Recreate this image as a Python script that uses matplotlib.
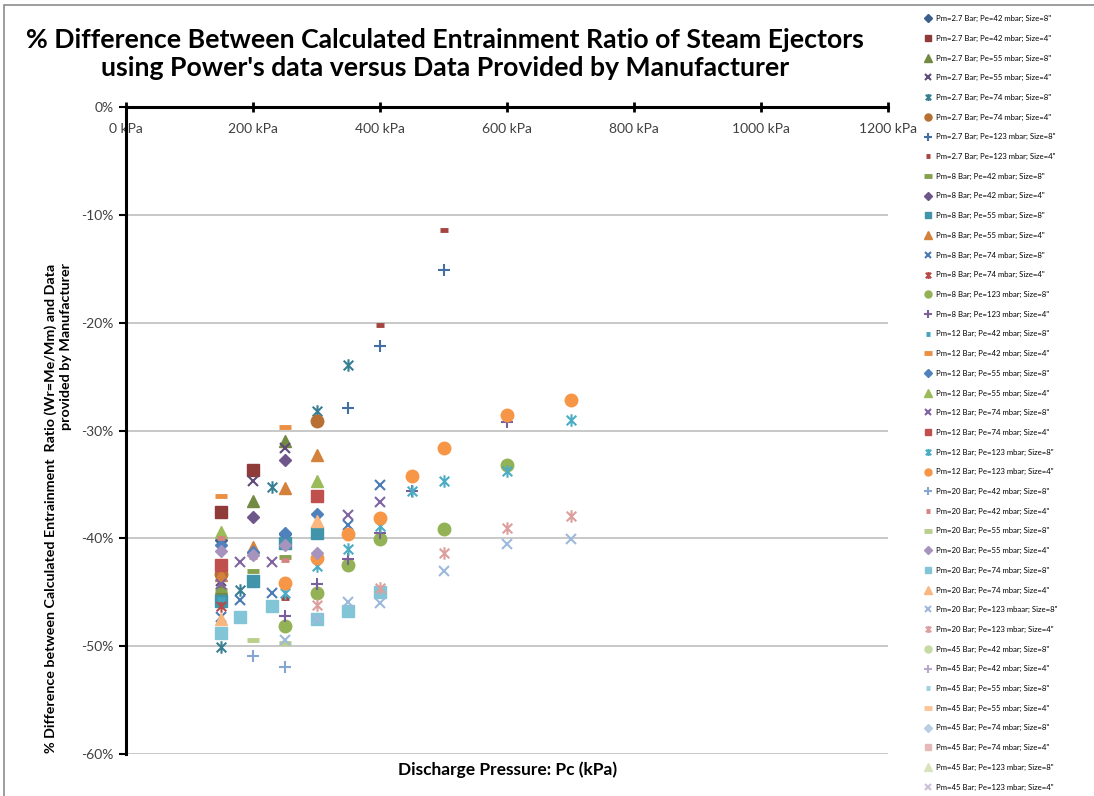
import matplotlib.pyplot as plt
import matplotlib.ticker as mtick
from matplotlib.colors import to_rgb
from matplotlib.lines import Line2D
from matplotlib.patches import Rectangle
from matplotlib.path import Path

plt.rcParams['font.family'] = ['Lato', 'DejaVu Sans']
plt.rcParams['axes.unicode_minus'] = False

# series names, one per ejector configuration
labels = [
    'Pm=2.7 Bar; Pe=42 mbar; Size=8"', 'Pm=2.7 Bar; Pe=42 mbar; Size=4"',
    'Pm=2.7 Bar; Pe=55 mbar; Size=8"', 'Pm=2.7 Bar; Pe=55 mbar; Size=4"',
    'Pm=2.7 Bar; Pe=74 mbar; Size=8"', 'Pm=2.7 Bar; Pe=74 mbar; Size=4"',
    'Pm=2.7 Bar; Pe=123 mbar; Size=8"', 'Pm=2.7 Bar; Pe=123 mbar; Size=4"',
    'Pm=8 Bar; Pe=42 mbar; Size=8"', 'Pm=8 Bar; Pe=42 mbar; Size=4"',
    'Pm=8 Bar; Pe=55 mbar; Size=8"', 'Pm=8 Bar; Pe=55 mbar; Size=4"',
    'Pm=8 Bar; Pe=74 mbar; Size=8"', 'Pm=8 Bar; Pe=74 mbar; Size=4"',
    'Pm=8 Bar; Pe=123 mbar; Size=8"', 'Pm=8 Bar; Pe=123 mbar; Size=4"',
    'Pm=12 Bar; Pe=42 mbar; Size=8"', 'Pm=12 Bar; Pe=42 mbar; Size=4"',
    'Pm=12 Bar; Pe=55 mbar; Size=8"', 'Pm=12 Bar; Pe=55 mbar; Size=4"',
    'Pm=12 Bar; Pe=74 mbar; Size=8"', 'Pm=12 Bar; Pe=74 mbar; Size=4"',
    'Pm=12 Bar; Pe=123 mbar; Size=8"', 'Pm=12 Bar; Pe=123 mbar; Size=4"',
    'Pm=20 Bar; Pe=42 mbar; Size=8"', 'Pm=20 Bar; Pe=42 mbar; Size=4"',
    'Pm=20 Bar; Pe=55 mbar; Size=8"', 'Pm=20 Bar; Pe=55 mbar; Size=4"',
    'Pm=20 Bar; Pe=74 mbar; Size=8"', 'Pm=20 Bar; Pe=74 mbar; Size=4"',
    'Pm=20 Bar; Pe=123 mbaar; Size=8"', 'Pm=20 Bar; Pe=123 mbar; Size=4"',
    'Pm=45 Bar; Pe=42 mbar; Size=8"', 'Pm=45 Bar; Pe=42 mbar; Size=4"',
    'Pm=45 Bar; Pe=55 mbar; Size=8"', 'Pm=45 Bar; Pe=55 mbar; Size=4"',
    'Pm=45 Bar; Pe=74 mbar; Size=8"', 'Pm=45 Bar; Pe=74 mbar; Size=4"',
    'Pm=45 Bar; Pe=123 mbar; Size=8"', 'Pm=45 Bar; Pe=123 mbar; Size=4"',
]

# discharge pressure Pc (kPa) for each series
pressure = [
    [150, 250], [150, 200], [150, 200, 250], [150, 200, 250],
    [150, 180, 230, 300, 350], [150, 300], [350, 400, 500], [250, 400, 500],
    [150, 200, 250], [200, 250], [150, 200, 250, 300], [150, 200, 250, 300],
    [150, 180, 230, 350, 400], [150], [250, 300, 350, 400, 500, 600],
    [250, 300, 350, 400, 450, 600],
    [150], [150, 250], [150, 200, 250, 300], [150, 300],
    [150, 180, 230, 350, 400], [150, 300],
    [250, 300, 350, 400, 450, 500, 600, 700],
    [250, 300, 350, 400, 450, 500, 600, 700],
    [200, 250], [150, 200, 250], [200, 250], [150, 200, 250, 300],
    [150, 180, 230, 300, 350, 400], [150, 300],
    [250, 300, 350, 400, 500, 600, 700], [300, 400, 500, 600, 700],
    [], [], [], [], [], [], [], [],
]

# % difference in entrainment ratio for each series
difference = [
    [-40.2, -39.6], [-37.6, -33.7], [-44.6, -36.5, -31.0], [-44.0, -34.7, -31.6],
    [-50.1, -44.8, -35.2, -28.2, -23.9], [-43.3, -29.1], [-27.9, -22.2, -15.1],
    [-45.5, -20.2, -11.4],
    [-44.8, -43.0, -41.7], [-38.0, -32.7], [-45.8, -44.0, -40.4, -39.5],
    [-43.4, -40.8, -35.3, -32.3],
    [-47.3, -45.7, -45.1, -38.8, -35.1], [-46.3],
    [-48.1, -45.1, -42.5, -40.1, -39.1, -33.2],
    [-47.2, -44.2, -41.9, -39.5, -35.6, -29.2],
    [-45.6], [-36.1, -29.7], [-40.6, -41.3, -39.5, -37.7], [-39.4, -34.7],
    [-44.2, -42.2, -42.2, -37.8, -36.6], [-42.5, -36.1],
    [-45.1, -42.6, -41.0, -38.9, -35.6, -34.7, -33.8, -29.0],
    [-44.1, -41.8, -39.6, -38.1, -34.2, -31.6, -28.6, -27.2],
    [-50.9, -51.9], [-40.0, -41.7, -42.0], [-49.4, -49.7],
    [-41.2, -41.5, -40.6, -41.4],
    [-48.8, -47.3, -46.3, -47.5, -46.7, -45.0], [-47.5, -38.4],
    [-49.4, -47.5, -45.9, -46.0, -43.0, -40.5, -40.1],
    [-46.2, -44.6, -41.4, -39.0, -37.9],
    [], [], [], [], [], [], [], [],
]

xticks = [0, 200, 400, 600, 800, 1000, 1200]
yticks = [0, -10, -20, -30, -40, -50, -60]

# office palette, darker shades first then lighter tints
accents = ['#4F81BD', '#C0504D', '#9BBB59', '#8064A2', '#4BACC6', '#F79646']
shades = [0.74, 0.86, 0.95, 1.0, -0.3, -0.45, -0.6]
hue = [i % 6 for i in range(40)]
hue[19], hue[20], hue[21] = 2, 3, 1   # restyled 12 bar series


def shade(c, f):
    r, g, b = to_rgb(c)
    if f > 0:
        return (r * f, g * f, b * f)
    t = -f
    return (r + (1 - r) * t, g + (1 - g) * t, b + (1 - b) * t)


colors = [shade(accents[hue[i]], shades[i // 6]) for i in range(40)]

# excel style star: an x with a vertical bar
star = Path([(-1, -1), (1, 1), (-1, 1), (1, -1), (0, -1.3), (0, 1.3)],
            [Path.MOVETO, Path.LINETO, Path.MOVETO, Path.LINETO,
             Path.MOVETO, Path.LINETO])

styles = {
    'D': dict(marker='D', ms=6.5),
    's': dict(marker='s', ms=8.5),
    '^': dict(marker='^', ms=9),
    'x': dict(marker='x', ms=7.5, mew=1.5),
    '*': dict(marker=star, ms=9, mew=1.5),
    'o': dict(marker='o', ms=9),
    '+': dict(marker='+', ms=9, mew=1.5),
    '-': dict(marker='_', ms=6, mew=3.5),
    '=': dict(marker='_', ms=9, mew=3.5),
}
markers = ['D', 's', '^', 'x', '*', 'o', '+', '-',
           '=', 'D', 's', '^', 'x', '*', 'o', '+',
           '-', '=', 'D', '^', 'x', 's', '*', 'o',
           '+', '-', '=', 'D', 's', '^', 'x', '*',
           'o', '+', '-', '=', 'D', 's', '^', 'x']

fig = plt.figure(figsize=(10.94, 7.96), dpi=100)
ax = fig.add_axes([126 / 1094, 1 - 754 / 796, 762 / 1094, 647 / 796])

handles = []
for i in range(40):
    st = styles[markers[i]]
    ax.plot(pressure[i], difference[i], ls='none', color=colors[i],
            mec=colors[i], mfc=colors[i], **st)
    handles.append(Line2D([], [], ls='none', color=colors[i], mec=colors[i],
                          mfc=colors[i], **st))

ax.set_xlim(0, 1200)
ax.set_ylim(-60, 0)
ax.set_xticks(xticks)
ax.set_xticklabels(['%d kPa' % v for v in xticks])
ax.set_yticks(yticks)
ax.yaxis.set_major_formatter(mtick.FormatStrFormatter('%d%%'))

ax.grid(True, axis='y', color='#c8c8c8', lw=1.4)
ax.set_axisbelow(True)
for s in ['right', 'bottom']:
    ax.spines[s].set_visible(False)
for s in ['left', 'top']:
    ax.spines[s].set_linewidth(2.2)
    ax.spines[s].set_color('black')

ax.xaxis.tick_top()
ax.tick_params(axis='x', direction='inout', length=7, width=2, pad=-24,
               labelsize=10, labelcolor='#404040')
ax.tick_params(axis='y', direction='out', length=5, width=1.5, pad=4,
               labelsize=10, labelcolor='#404040')

fig.text(445 / 1094, 1 - 54 / 796,
         "% Difference Between Calculated Entrainment Ratio of Steam Ejectors\n"
         "using Power's data versus Data Provided by Manufacturer",
         ha='center', va='center', fontsize=19.2, fontweight='bold',
         linespacing=1.15)
fig.text(508 / 1094, 1 - 770 / 796, 'Discharge Pressure: Pc (kPa)',
         ha='center', va='center', fontsize=12.5, fontweight='bold')
fig.text(58 / 1094, 1 - 508 / 796,
         '% Difference between Calculated Entrainment  Ratio (Wr=Me/Mm) and Data\n'
         'provided by Manufacturer',
         ha='center', va='center', rotation=90, fontsize=10.3,
         fontweight='bold', multialignment='right', linespacing=1.25)

fig.legend(handles, labels, loc='upper left',
           bbox_to_anchor=(922 / 1094, 1 - 12 / 796), frameon=False,
           fontsize=5.6, labelspacing=1.625, handlelength=0.8,
           handletextpad=0.6, borderaxespad=0, markerscale=0.56)

fig.add_artist(Rectangle((4 / 1094, -0.05), 1.1, 1.0437,
                         transform=fig.transFigure, fill=False,
                         edgecolor='#8c8c8c', lw=1.2))

plt.savefig('out.png', dpi=100)
